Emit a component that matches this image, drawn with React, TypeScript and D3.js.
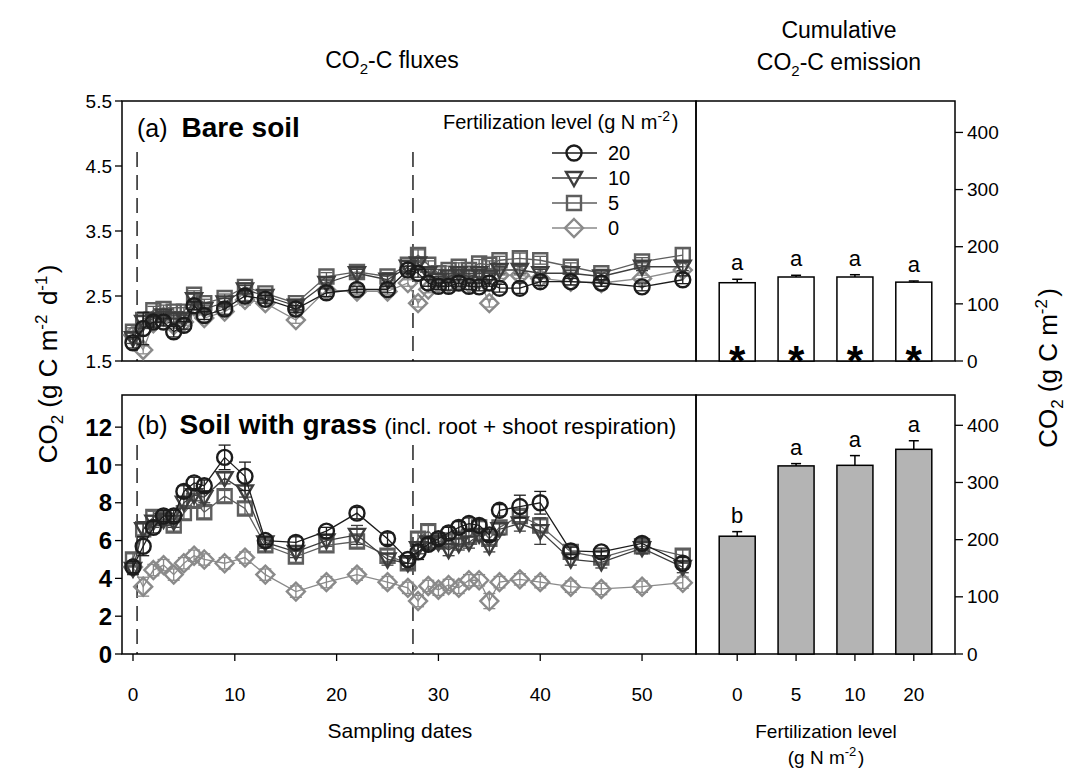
import React from "react";
import * as d3 from "d3";

// sampling dates (days)
const days = [0, 1, 2, 3, 4, 5, 6, 7, 9, 11, 13, 16, 19, 22, 25, 27, 28, 29, 30, 31, 32, 33, 34, 35, 36, 38, 40, 43, 46, 50, 54];

// (a) bare soil fluxes, g C m-2 d-1
const bare20 = [1.78, 2.0, 2.1, 2.1, 1.95, 2.05, 2.35, 2.2, 2.3, 2.5, 2.45, 2.3, 2.55, 2.6, 2.6, 2.9, 2.85, 2.7, 2.65, 2.65, 2.7, 2.65, 2.64, 2.7, 2.62, 2.62, 2.72, 2.72, 2.7, 2.64, 2.75];
const bare10 = [1.85, 2.1, 2.15, 2.2, 2.15, 2.15, 2.45, 2.3, 2.4, 2.6, 2.5, 2.35, 2.7, 2.85, 2.75, 2.95, 3.0, 2.85, 2.75, 2.8, 2.85, 2.8, 2.85, 2.8, 2.9, 2.9, 2.85, 2.85, 2.8, 2.95, 2.95];
const bare5 = [1.95, 2.13, 2.28, 2.3, 2.26, 2.26, 2.52, 2.39, 2.47, 2.64, 2.54, 2.39, 2.8, 2.87, 2.8, 2.98, 3.13, 2.98, 2.85, 2.9, 2.95, 2.9, 3.0, 2.98, 3.05, 3.08, 3.05, 2.95, 2.85, 3.03, 3.13];
const bare0 = [1.9, 1.67, 2.08, 2.18, 2.05, 2.1, 2.34, 2.16, 2.26, 2.44, 2.39, 2.13, 2.59, 2.57, 2.57, 2.7, 2.39, 2.6, 2.7, 2.7, 2.75, 2.7, 2.75, 2.39, 2.82, 2.82, 2.77, 2.72, 2.7, 2.77, 2.9];
const bareErr20 = [0.08, 0.25, 0.08, 0.06, 0.08, 0.06, 0.06, 0.06, 0.08, 0.08, 0.06, 0.05, 0.06, 0.05, 0.05, 0.06, 0.06, 0.05, 0.05, 0.06, 0.05, 0.05, 0.06, 0.05, 0.06, 0.08, 0.06, 0.05, 0.05, 0.06, 0.06];
const bareErr10 = [0.08, 0.1, 0.06, 0.06, 0.06, 0.06, 0.08, 0.06, 0.06, 0.06, 0.06, 0.06, 0.06, 0.06, 0.06, 0.08, 0.08, 0.06, 0.05, 0.05, 0.06, 0.05, 0.06, 0.05, 0.06, 0.06, 0.06, 0.05, 0.05, 0.06, 0.06];
const bareErr5 = [0.06, 0.06, 0.06, 0.06, 0.06, 0.06, 0.06, 0.06, 0.06, 0.06, 0.06, 0.06, 0.06, 0.06, 0.06, 0.06, 0.08, 0.06, 0.06, 0.06, 0.06, 0.06, 0.06, 0.06, 0.06, 0.08, 0.06, 0.06, 0.06, 0.06, 0.1];
const bareErr0 = [0.06, 0.06, 0.05, 0.05, 0.05, 0.05, 0.06, 0.05, 0.06, 0.08, 0.05, 0.05, 0.05, 0.05, 0.05, 0.05, 0.06, 0.05, 0.05, 0.05, 0.05, 0.05, 0.05, 0.06, 0.05, 0.05, 0.05, 0.05, 0.05, 0.05, 0.05];

// (b) soil with grass fluxes
const grass20 = [4.6, 5.7, 6.7, 7.3, 7.3, 8.6, 9.05, 8.9, 10.4, 9.4, 6.0, 5.9, 6.5, 7.45, 6.1, 5.0, 5.4, 5.8, 6.1, 6.4, 6.7, 6.9, 6.8, 6.3, 7.6, 7.8, 8.0, 5.45, 5.4, 5.85, 4.8];
const grass10 = [4.5, 6.6, 7.0, 7.1, 7.0, 8.0, 8.4, 8.3, 9.3, 8.6, 5.9, 5.4, 6.0, 6.3, 5.0, 4.8, 5.6, 5.9, 5.9, 5.5, 5.8, 5.9, 6.3, 5.7, 6.6, 6.9, 6.5, 5.0, 4.85, 5.6, 4.6];
const grass5 = [5.0, 6.6, 7.25, 7.2, 6.8, 7.45, 8.1, 7.5, 8.35, 7.7, 5.75, 5.15, 5.75, 5.95, 5.2, 4.8, 6.1, 6.5, 5.95, 6.0, 6.1, 6.2, 6.7, 6.1, 6.7, 7.3, 6.8, 5.4, 5.1, 5.7, 5.2];
const grass0 = [4.6, 3.56, 4.44, 4.7, 4.2, 4.8, 5.2, 5.0, 4.8, 5.1, 4.2, 3.3, 3.8, 4.2, 3.8, 3.5, 2.8, 3.6, 3.4, 3.65, 3.5, 3.9, 3.9, 2.8, 3.8, 3.95, 3.8, 3.56, 3.44, 3.56, 3.77];
const grassErr20 = [0.3, 0.5, 0.3, 0.3, 0.3, 0.3, 0.3, 0.3, 0.65, 0.75, 0.2, 0.3, 0.2, 0.3, 0.3, 0.2, 0.4, 0.3, 0.3, 0.3, 0.3, 0.3, 0.3, 0.3, 0.3, 0.6, 0.6, 0.2, 0.2, 0.3, 0.3];
const grassErr10 = [0.3, 0.4, 0.3, 0.3, 0.3, 0.3, 0.3, 0.3, 0.3, 0.3, 0.3, 0.3, 0.3, 0.5, 0.3, 0.3, 0.3, 0.3, 0.3, 0.3, 0.3, 0.3, 0.3, 0.3, 0.3, 0.4, 0.7, 0.3, 0.3, 0.3, 0.3];
const grassErr5 = [0.3, 0.3, 0.3, 0.3, 0.3, 0.3, 0.3, 0.3, 0.3, 0.3, 0.3, 0.3, 0.3, 0.3, 0.3, 0.3, 0.3, 0.3, 0.3, 0.3, 0.3, 0.3, 0.3, 0.3, 0.3, 0.3, 0.3, 0.3, 0.3, 0.3, 0.3];
const grassErr0 = [0.3, 0.5, 0.3, 0.3, 0.3, 0.3, 0.3, 0.3, 0.3, 0.3, 0.3, 0.3, 0.3, 0.3, 0.3, 0.3, 0.3, 0.3, 0.3, 0.3, 0.3, 0.3, 0.3, 0.4, 0.3, 0.3, 0.3, 0.3, 0.3, 0.3, 0.3];

// cumulative emission, g C m-2
const fertLevels = ["0", "5", "10", "20"];
const bareCum = [137, 147, 147, 138];
const bareCumErr = [6, 3, 4, 2];
const bareLetters = ["a", "a", "a", "a"];
const grassCum = [206, 329, 330, 358];
const grassCumErr = [8, 4, 17, 15];
const grassLetters = ["b", "a", "a", "a"];

const legendLabels = ["20", "10", "5", "0"];
const bareTicks = [1.5, 2.5, 3.5, 4.5, 5.5];
const grassTicks = [0, 2, 4, 6, 8, 10, 12];
const dayTicks = [0, 10, 20, 30, 40, 50];
const cumTicks = [0, 100, 200, 300, 400];
const treatmentDays = [0.4, 27.5];

const FONT = "Arial, 'Liberation Sans', sans-serif";
const colors = ["#1c1c1c", "#3e3e3e", "#5e5e5e", "#8a8a8a"];
const shapes = ["circle", "triangle", "square", "diamond"];

const L = 122, M = 696, R = 955;
const aTop = 101, aBot = 361, bTop = 395, bBot = 654;

const x = d3.scaleLinear().domain([-1.08, 55.3]).range([L, M]);
const yA = d3.scaleLinear().domain([1.5, 5.5]).range([aBot, aTop]);
const yB = d3.scaleLinear().domain([0, 13.7]).range([bBot, bTop]);
const xBar = d3.scalePoint<string>().domain(fertLevels).range([M, R]).padding(0.7);
const yBarA = d3.scaleLinear().domain([0, 455]).range([aBot, aTop]);
const yBarB = d3.scaleLinear().domain([0, 453]).range([bBot, bTop]);

function markerPath(shape: string) {
  if (shape === "circle") return d3.arc()({ innerRadius: 0, outerRadius: 7.5, startAngle: 0, endAngle: Math.PI * 2 } as any) as string;
  if (shape === "triangle") return "M-8,-6L8,-6L0,8Z";
  if (shape === "square") return "M-7,-7H7V7H-7Z";
  return "M0,-9L9,0L0,9L-9,0Z";
}

const Marker = ({ shape, color, cx, cy }: any) => (
  <path d={markerPath(shape)} transform={`translate(${cx},${cy})`} fill="none" stroke={color} strokeWidth={2.4} />
);

const Series = ({ vals, errs, y, i }: any) => {
  const line = d3.line<number>().x((_, k) => x(days[k])).y((v) => y(v));
  return (
    <g>
      <path d={line(vals) as string} fill="none" stroke={colors[i]} strokeWidth={1.3} />
      {vals.map((v: number, k: number) => {
        const cx = x(days[k]);
        return (
          <g key={k} stroke={colors[i]} strokeWidth={1.3}>
            <line x1={cx} x2={cx} y1={y(v - errs[k])} y2={y(v + errs[k])} />
            <line x1={cx - 6} x2={cx + 6} y1={y(v + errs[k])} y2={y(v + errs[k])} />
            <line x1={cx - 6} x2={cx + 6} y1={y(v - errs[k])} y2={y(v - errs[k])} />
          </g>
        );
      })}
      {vals.map((v: number, k: number) => (
        <Marker key={k} shape={shapes[i]} color={colors[i]} cx={x(days[k])} cy={y(v)} />
      ))}
    </g>
  );
};

const Bars = ({ vals, errs, letters, y, fill, bottom, stars }: any) => (
  <g>
    {vals.map((v: number, k: number) => {
      const cx = xBar(fertLevels[k]) as number;
      const top = y(v + errs[k]);
      return (
        <g key={k}>
          <line x1={cx} x2={cx} y1={y(v)} y2={top} stroke="#000" strokeWidth={1.5} />
          <line x1={cx - 5} x2={cx + 5} y1={top} y2={top} stroke="#000" strokeWidth={1.5} />
          <rect x={cx - 18} width={36} y={y(v)} height={bottom - y(v)} fill={fill} stroke="#000" strokeWidth={1.5} />
          <text x={cx} y={top - 9} textAnchor="middle" fontSize={22}>{letters[k]}</text>
          {stars && <text x={cx} y={bottom + 14} textAnchor="middle" fontSize={42} fontWeight="bold">*</text>}
        </g>
      );
    })}
  </g>
);

const Sup = ({ t, s = 14 }: { t: string; s?: number }) => (
  <>
    <tspan dy={-s * 0.6} fontSize={s}>{t}</tspan>
    <tspan dy={s * 0.6}>{"\u200A"}</tspan>
  </>
);

export default function App() {
  const bare = [bare20, bare10, bare5, bare0];
  const bareE = [bareErr20, bareErr10, bareErr5, bareErr0];
  const grass = [grass20, grass10, grass5, grass0];
  const grassE = [grassErr20, grassErr10, grassErr5, grassErr0];
  return (
    <svg width={1071} height={772} style={{ position: "absolute", left: 0, top: 0, background: "#fff" }} fontFamily={FONT} fill="#000">
      {/* headings */}
      <text x={392} y={68} textAnchor="middle" fontSize={23}>
        CO<tspan dy={6} fontSize={15}>2</tspan><tspan dy={-6}>-C fluxes</tspan>
      </text>
      <text x={839} y={38} textAnchor="middle" fontSize={23}>Cumulative</text>
      <text x={839} y={70} textAnchor="middle" fontSize={23}>
        CO<tspan dy={6} fontSize={15}>2</tspan><tspan dy={-6}>-C emission</tspan>
      </text>

      {/* frames */}
      <g fill="none" stroke="#000" strokeWidth={1.5}>
        <rect x={L} y={aTop} width={M - L} height={aBot - aTop} />
        <rect x={M} y={aTop} width={R - M} height={aBot - aTop} />
        <rect x={L} y={bTop} width={M - L} height={bBot - bTop} />
        <rect x={M} y={bTop} width={R - M} height={bBot - bTop} />
      </g>

      {/* treatment lines */}
      {treatmentDays.map((d) => (
        <g key={d} stroke="#000" strokeWidth={1.3} strokeDasharray="15,8">
          <line x1={x(d)} x2={x(d)} y1={152} y2={aBot} />
          <line x1={x(d)} x2={x(d)} y1={445} y2={bBot} />
        </g>
      ))}

      {/* left axes */}
      {bareTicks.map((t) => (
        <g key={t}>
          <line x1={L - 7} x2={L} y1={yA(t)} y2={yA(t)} stroke="#000" strokeWidth={1.3} />
          <text x={L - 10} y={yA(t)} dy="0.35em" textAnchor="end" fontSize={19}>{t.toFixed(1)}</text>
        </g>
      ))}
      {grassTicks.map((t) => (
        <g key={t}>
          <line x1={L - 7} x2={L} y1={yB(t)} y2={yB(t)} stroke="#000" strokeWidth={1.3} />
          <text x={L - 10} y={yB(t)} dy="0.36em" textAnchor="end" fontSize={24} fontWeight="bold">{t}</text>
        </g>
      ))}
      {dayTicks.map((t) => (
        <g key={t}>
          <line x1={x(t)} x2={x(t)} y1={bBot} y2={bBot + 7} stroke="#000" strokeWidth={1.3} />
          <text x={x(t)} y={701} textAnchor="middle" fontSize={19}>{t}</text>
        </g>
      ))}
      {fertLevels.map((f) => (
        <g key={f}>
          <line x1={xBar(f)} x2={xBar(f)} y1={bBot} y2={bBot + 7} stroke="#000" strokeWidth={1.3} />
          <text x={xBar(f)} y={701} textAnchor="middle" fontSize={19}>{f}</text>
        </g>
      ))}

      {/* right axes */}
      {cumTicks.map((t) => (
        <g key={"a" + t}>
          <line x1={R} x2={R + 8} y1={yBarA(t)} y2={yBarA(t)} stroke="#000" strokeWidth={1.3} />
          <text x={R + 12} y={yBarA(t)} dy="0.35em" fontSize={19}>{t}</text>
        </g>
      ))}
      {cumTicks.map((t) => (
        <g key={"b" + t}>
          <line x1={R} x2={R + 8} y1={yBarB(t)} y2={yBarB(t)} stroke="#000" strokeWidth={1.3} />
          <text x={R + 12} y={yBarB(t)} dy="0.35em" fontSize={19}>{t}</text>
        </g>
      ))}

      {/* axis titles */}
      <text transform="translate(57,364) rotate(-90)" textAnchor="middle" fontSize={26}>
        CO<tspan dy={6} fontSize={17}>2</tspan><tspan dy={-6}> (g C m</tspan><Sup t="-2" s={17} /> d<Sup t="-1" s={17} />)
      </text>
      <text transform="translate(1057,368) rotate(-90)" textAnchor="middle" fontSize={26}>
        CO<tspan dy={6} fontSize={17}>2</tspan><tspan dy={-6}> (g C m</tspan><Sup t="-2" s={17} />)
      </text>
      <text x={400} y={738} textAnchor="middle" fontSize={21}>Sampling dates</text>
      <text x={826} y={738} textAnchor="middle" fontSize={19}>Fertilization level</text>
      <text x={826} y={764} textAnchor="middle" fontSize={19}>
        (g N m<Sup t="-2" s={13} />)
      </text>

      {/* panel labels */}
      <text x={137} y={137} fontSize={25}>(a)<tspan dx={14} fontWeight="bold" fontSize={28}>Bare soil</tspan></text>
      <text x={137} y={434} fontSize={25}>
        (b)<tspan dx={12} fontWeight="bold" fontSize={28}>Soil with grass</tspan>
        <tspan dx={7} fontSize={22.5}>(incl. root + shoot respiration)</tspan>
      </text>

      {/* legend */}
      <text x={443} y={129} fontSize={20}>
        Fertilization level (g N m<Sup t="-2" s={14} />)
      </text>
      {legendLabels.map((lab, i) => {
        const ly = 153 + i * 25;
        return (
          <g key={lab}>
            <line x1={552} x2={597} y1={ly} y2={ly} stroke={colors[i]} strokeWidth={1.3} />
            <Marker shape={shapes[i]} color={colors[i]} cx={574} cy={ly} />
            <text x={608} y={ly} dy="0.36em" fontSize={20}>{lab}</text>
          </g>
        );
      })}

      {/* flux series */}
      {[3, 2, 1, 0].map((i) => (
        <Series key={"a" + i} vals={bare[i]} errs={bareE[i]} y={yA} i={i} />
      ))}
      {[3, 2, 1, 0].map((i) => (
        <Series key={"b" + i} vals={grass[i]} errs={grassE[i]} y={yB} i={i} />
      ))}

      {/* cumulative bars */}
      <Bars vals={bareCum} errs={bareCumErr} letters={bareLetters} y={yBarA} fill="#fff" bottom={aBot} stars />
      <Bars vals={grassCum} errs={grassCumErr} letters={grassLetters} y={yBarB} fill="#b4b4b4" bottom={bBot} />
    </svg>
  );
}
